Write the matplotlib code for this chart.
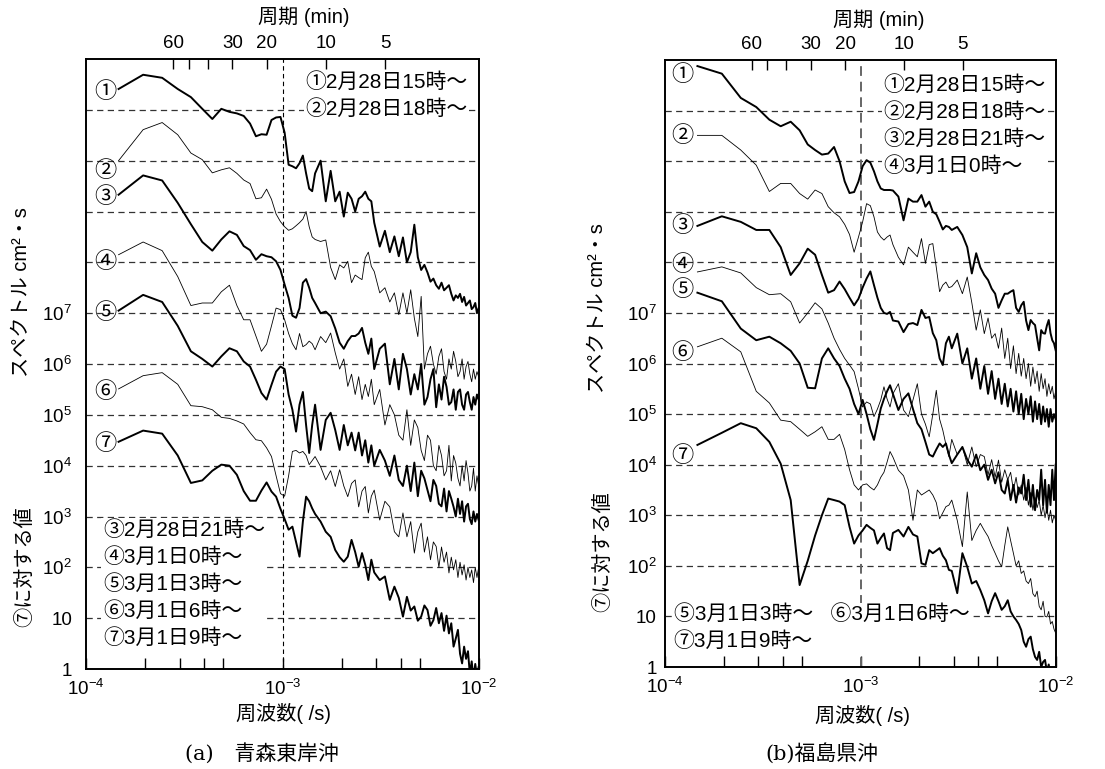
import matplotlib
matplotlib.use("Agg")
import matplotlib.pyplot as plt
from matplotlib.ticker import FixedLocator, NullLocator, FixedFormatter
import numpy as np

plt.rcParams['font.family'] = ['Liberation Sans', 'Noto Sans CJK JP']
plt.rcParams['mathtext.fontset'] = 'custom'
plt.rcParams['mathtext.rm'] = 'Liberation Sans'
plt.rcParams['mathtext.it'] = 'Liberation Sans:italic'

# spectral bins: frequency = bin / record length
RECORD_SEC = 20480.0
bins = [3, 4, 5, 6, 7, 8, 9, 10, 11, 12,
        13, 14, 15, 16, 17, 18, 19, 20, 21, 22,
        23, 24, 25, 26, 27, 28, 29, 30, 32, 34,
        36, 38, 40, 42, 44, 46, 48, 50, 52, 54,
        56, 58, 60, 64, 68, 72, 76, 80, 84, 88,
        92, 96, 100, 104, 108, 112, 116, 120, 124, 128,
        132, 136, 140, 144, 148, 152, 156, 160, 164, 168,
        172, 176, 180, 184, 188, 192, 196, 200, 204]

# log10 of spectrum (offset relative to curve 7), (a) Aomori
aomori_1 = [11.41, 11.69, 11.63, 11.41, 11.25, 11.02, 10.82, 11.02, 10.96, 10.93,
            10.88, 10.73, 10.48, 10.52, 10.51, 10.80, 10.85, 10.86, 10.55, 9.92,
            9.89, 9.85, 9.95, 10.10, 9.75, 9.45, 9.40, 9.75, 10.0, 9.2,
            9.8, 9.2, 9.39, 8.9, 9.37, 9.25, 9.0, 9.25, 9.3, 9.39,
            9.25, 9.2, 8.78, 8.31, 8.62, 8.2, 8.51, 8.12, 8.49, 8.0,
            8.2, 8.74, 8.1, 7.85, 7.95, 7.8, 7.62, 7.68, 7.55, 7.48,
            7.6, 7.45, 7.5, 7.55, 7.38, 7.25, 7.35, 7.3, 7.38, 7.22,
            7.32, 7.15, 7.2, 7.25, 7.08, 7.12, 7.2, 7.0, 7.1]
aomori_2 = [10.0, 10.61, 10.75, 10.51, 10.15, 10.02, 9.76, 9.82, 9.86, 9.75,
            9.62, 9.55, 9.25, 9.27, 9.44, 9.24, 8.95, 8.8, 8.7, 8.63,
            8.66, 8.72, 8.78, 8.85, 9.0, 8.7, 8.5, 8.45, 8.41, 8.44,
            7.9, 7.66, 7.95, 7.89, 8.02, 7.6, 7.75, 7.7, 7.66, 8.09,
            8.2, 7.92, 7.82, 7.4, 7.5, 7.22, 7.4, 6.97, 7.4, 7.0,
            7.46, 6.9, 6.54, 7.33, 5.9, 6.2, 6.35, 6.0, 5.8, 6.15,
            6.3, 5.85, 5.7, 6.1, 5.9, 6.25, 6.05, 5.75, 5.85, 6.1,
            5.7, 5.95, 6.05, 5.8, 5.65, 5.9, 5.7, 5.85, 5.75]
aomori_3 = [9.33, 9.71, 9.61, 9.17, 8.75, 8.4, 8.23, 8.45, 8.61, 8.54,
            8.32, 8.24, 8.05, 8.16, 8.12, 8.1, 8.02, 7.85, 7.56, 7.3,
            6.95, 6.91, 7.1, 7.6, 7.67, 7.5, 7.3, 7.2, 7.0, 7.03,
            6.94, 6.7, 6.42, 6.3, 6.45, 6.55, 6.55, 6.6, 6.71, 6.42,
            6.2, 6.5, 5.9, 6.3, 6.4, 5.6, 6.1, 5.5, 6.2, 5.9,
            5.4, 5.8, 5.5, 6.0, 5.2, 5.35, 5.7, 5.9, 5.15, 5.6,
            5.3, 5.75, 5.55, 5.2, 5.25, 5.5, 5.1, 5.45, 5.5, 5.2,
            5.1, 5.4, 5.45, 5.25, 5.1, 5.35, 5.2, 5.4, 5.3]
aomori_4 = [8.15, 8.4, 8.23, 7.72, 7.15, 7.2, 7.2, 7.42, 7.55, 7.15,
            6.87, 6.87, 6.55, 6.25, 6.39, 6.75, 7.1, 7.07, 6.87, 6.6,
            6.4, 6.28, 6.6, 6.34, 6.38, 6.45, 6.4, 6.28, 6.54, 6.42,
            6.61, 6.22, 5.9, 6.1, 5.56, 5.8, 5.4, 5.75, 5.3, 5.6,
            5.36, 5.7, 5.2, 5.5, 4.8, 5.2, 5.0, 4.6, 4.5, 5.1,
            4.4, 4.9, 4.75, 4.3, 4.1, 4.6, 4.5, 4.0, 3.9, 4.4,
            4.2, 3.8, 3.9, 4.4, 3.7, 4.2, 4.05, 3.75, 3.6, 4.0,
            3.7, 4.1, 3.85, 3.5, 3.6, 3.95, 3.5, 3.8, 3.6]
aomori_5 = [7.05, 7.36, 7.22, 6.75, 6.25, 6.1, 5.95, 6.15, 6.31, 6.25,
            6.05, 5.95, 5.69, 5.43, 5.3, 5.59, 5.85, 5.95, 5.9, 5.4,
            5.1, 4.67, 5.2, 5.45, 4.8, 4.25, 4.8, 5.2, 4.31, 4.9,
            5.04, 4.7, 4.31, 4.8, 4.4, 4.65, 4.3, 4.65, 4.2, 4.5,
            4.06, 4.4, 4.0, 4.31, 4.1, 3.8, 4.2, 3.72, 3.6, 4.0,
            3.5, 4.06, 3.4, 3.9, 3.75, 3.52, 3.3, 3.72, 3.6, 3.25,
            3.2, 3.55, 3.1, 3.5, 3.35, 3.19, 3.0, 3.35, 3.05, 3.3,
            2.9, 3.2, 3.25, 2.95, 2.85, 3.1, 2.9, 3.05, 2.93]
aomori_6 = [5.51, 5.77, 5.83, 5.6, 5.18, 5.16, 5.1, 4.95, 4.93, 4.88,
            4.82, 4.65, 4.51, 4.49, 4.35, 4.18, 3.8, 3.45, 3.4, 3.8,
            4.28, 4.3, 4.25, 4.28, 4.2, 4.02, 4.1, 4.18, 3.98, 3.72,
            3.9, 3.59, 3.92, 3.6, 3.39, 3.65, 3.72, 3.19, 3.5, 3.59,
            3.07, 3.4, 3.52, 2.93, 3.3, 3.19, 2.7, 2.6, 3.07, 2.6,
            2.9, 2.28, 2.7, 2.87, 2.3, 2.6, 2.15, 2.5, 2.41, 2.0,
            2.4, 2.1, 2.3, 1.89, 2.2, 1.95, 2.15, 1.8, 2.1, 1.85,
            2.05, 1.75, 2.0, 1.8, 1.95, 1.7, 2.0, 1.8, 2.0]
aomori_7 = [4.47, 4.69, 4.63, 4.2, 3.66, 3.71, 3.9, 4.02, 4.0, 3.82,
            3.5, 3.31, 3.31, 3.51, 3.67, 3.49, 3.39, 3.15, 2.95, 2.74,
            2.8, 2.5, 2.21, 2.9, 3.39, 3.3, 3.16, 3.05, 2.9, 2.7,
            2.6, 2.34, 2.2, 2.11, 2.21, 2.54, 2.3, 2.01, 2.28, 2.05,
            1.75, 2.15, 1.9, 1.75, 1.82, 1.36, 1.62, 1.4, 1.03, 1.42,
            1.15, 1.23, 0.95, 1.03, 1.25, 1.16, 0.85, 0.96, 1.2, 0.9,
            1.1, 0.75, 1.05, 0.7, 0.9, 0.44, 0.6, 0.77, 0.3, 0.11,
            0.44, 0.2, 0.35, -0.1, 0.15, -0.2, 0.1, -0.15, 0.04]

# (b) Fukushima
fukushima_1 = [11.88, 11.73, 11.25, 11.07, 10.82, 10.69, 10.78, 10.61, 10.33, 10.22,
               10.13, 10.15, 10.28, 10.0, 9.6, 9.37, 9.39, 9.6, 9.9, 10.02,
               9.97, 9.8, 9.6, 9.46, 9.43, 9.43, 9.43, 9.42, 9.3, 8.83,
               9.26, 9.2, 9.2, 9.33, 9.1, 9.2, 9.0, 8.95, 8.8, 8.65,
               8.72, 8.7, 8.64, 8.7, 8.54, 8.3, 7.78, 8.18, 7.9, 7.75,
               7.65, 7.48, 7.38, 7.1, 7.25, 7.38, 7.38, 7.42, 7.45, 7.1,
               7.02, 7.15, 7.22, 6.85, 6.66, 6.86, 6.8, 6.76, 6.5, 6.26,
               6.66, 6.6, 6.59, 6.75, 6.86, 6.6, 6.46, 6.4, 6.26]
fukushima_2 = [10.51, 10.51, 10.22, 9.92, 9.4, 9.56, 9.56, 9.36, 9.25, 9.43,
               9.36, 9.1, 8.98, 8.9, 8.75, 8.55, 8.2, 8.5, 8.8, 9.16,
               9.12, 8.9, 8.6, 8.5, 8.44, 8.5, 8.54, 8.35, 8.1, 7.95,
               8.3, 8.2, 8.11, 8.47, 7.98, 8.35, 8.37, 7.9, 7.42, 7.55,
               7.61, 7.5, 7.52, 7.65, 7.38, 7.71, 7.2, 6.66, 7.06, 6.59,
               6.9, 6.5, 6.59, 6.3, 6.7, 6.1, 6.5, 5.9, 6.35, 5.8,
               6.2, 5.75, 6.1, 5.7, 6.0, 5.55, 5.93, 5.6, 5.85, 5.45,
               5.8, 5.5, 5.7, 5.35, 5.6, 5.4, 5.55, 5.3, 5.45]
fukushima_3 = [8.72, 8.91, 8.8, 8.64, 8.64, 8.3, 7.75, 7.98, 8.27, 8.15,
               7.75, 7.4, 7.45, 7.62, 7.47, 7.3, 7.15, 7.28, 7.5, 7.68,
               7.82, 7.55, 7.3, 7.1, 7.0, 6.98, 7.02, 6.85, 6.83, 6.62,
               6.78, 6.8, 6.76, 7.06, 6.9, 6.92, 6.6, 6.46, 6.1, 5.97,
               6.4, 6.53, 6.3, 6.59, 6.0, 6.3, 5.7, 6.1, 5.5, 5.95,
               5.4, 5.85, 5.3, 5.7, 5.2, 5.6, 5.15, 5.5, 5.05, 5.45,
               5.0, 5.4, 4.9, 5.3, 5.0, 5.35, 4.85, 5.25, 4.9, 5.2,
               4.8, 5.15, 4.85, 5.1, 4.75, 5.1, 4.85, 5.0, 4.9]
fukushima_4 = [7.81, 7.91, 7.79, 7.5, 7.36, 7.38, 7.22, 6.8, 7.0, 7.2,
               7.08, 6.8, 6.5, 6.28, 6.1, 5.97, 5.84, 5.5, 5.14, 5.24,
               5.2, 4.95, 5.1, 5.28, 5.54, 5.3, 5.14, 5.4, 5.6, 5.08,
               4.95, 5.28, 5.6, 5.0, 4.8, 4.55, 5.0, 5.47, 4.9, 4.68,
               4.4, 4.16, 4.5, 4.2, 4.35, 4.0, 4.35, 3.96, 4.2, 4.16,
               3.8, 4.1, 3.75, 4.09, 3.65, 3.9, 3.7, 3.85, 3.5, 3.75,
               3.4, 3.6, 3.3, 3.55, 3.2, 3.45, 3.1, 3.35, 3.15, 3.3,
               3.0, 3.2, 2.95, 3.15, 2.9, 3.1, 2.85, 3.0, 2.9]
fukushima_5 = [7.4, 7.23, 6.69, 6.46, 6.53, 6.4, 6.25, 6.0, 5.52, 5.51,
               6.1, 6.3, 6.1, 5.95, 5.7, 5.5, 5.2, 5.0, 5.28, 5.0,
               4.7, 4.49, 4.8, 5.11, 5.3, 5.45, 5.57, 5.4, 5.08, 5.3,
               5.41, 5.1, 4.82, 4.7, 4.45, 4.2, 4.16, 4.3, 4.42, 4.35,
               4.42, 4.2, 4.03, 4.2, 4.35, 4.1, 3.96, 4.2, 3.89, 4.0,
               3.7, 3.9, 3.63, 3.85, 3.5, 3.43, 3.7, 3.3, 3.6, 3.25,
               3.55, 3.43, 3.8, 3.3, 3.7, 3.17, 3.6, 3.1, 3.5, 3.3,
               3.9, 3.2, 3.7, 3.05, 3.6, 3.2, 3.9, 3.3, 4.0]
fukushima_6 = [6.33, 6.5, 6.23, 5.45, 5.22, 4.88, 4.85, 4.7, 4.56, 4.65,
               4.75, 4.5, 4.5, 4.6, 4.3, 3.9, 3.6, 3.5, 3.6, 3.62,
               3.55, 3.5, 3.6, 3.75, 3.85, 4.05, 4.26, 4.15, 3.89, 3.78,
               3.5, 2.9, 3.5, 3.4, 3.45, 3.5, 3.4, 3.25, 2.93, 3.05,
               3.17, 3.2, 3.3, 2.9, 2.38, 3.46, 2.5, 2.7, 2.84, 2.7,
               2.58, 2.4, 2.25, 2.1, 1.98, 2.4, 2.77, 2.5, 2.25, 2.0,
               2.1, 1.85, 1.9, 1.7, 1.65, 1.75, 1.45, 1.39, 1.5, 1.2,
               1.13, 1.3, 1.0, 0.99, 1.1, 0.85, 0.9, 0.75, 0.67]
fukushima_7 = [4.39, 4.63, 4.82, 4.72, 4.45, 4.02, 3.3, 1.62, 2.1, 2.6,
               3.0, 3.33, 3.3, 3.27, 3.2, 2.77, 2.44, 2.6, 2.7, 2.81,
               2.75, 2.7, 2.44, 2.55, 2.64, 2.35, 2.31, 2.65, 2.71, 2.58,
               2.77, 2.62, 2.58, 2.05, 2.02, 2.31, 2.25, 2.3, 2.35, 2.2,
               2.11, 1.92, 1.9, 1.46, 2.25, 1.98, 1.65, 1.7, 1.52, 1.32,
               1.06, 1.3, 1.46, 1.3, 1.13, 1.2, 1.32, 1.1, 1.0, 0.93,
               0.85, 0.73, 0.5, 0.4, 0.55, 0.6, 0.35, 0.2, 0.14, 0.3,
               0.0, 0.1, 0.14, -0.1, 0.05, -0.2, -0.1, -0.3, -0.2]

aomori = [aomori_1, aomori_2, aomori_3, aomori_4, aomori_5, aomori_6, aomori_7]
fukushima = [fukushima_1, fukushima_2, fukushima_3, fukushima_4,
             fukushima_5, fukushima_6, fukushima_7]

marks = ['①', '②', '③', '④', '⑤', '⑥', '⑦']
aomori_top = ['①2月28日15時～', '②2月28日18時～']
aomori_bottom = ['③2月28日21時～', '④3月1日0時～', '⑤3月1日3時～',
                 '⑥3月1日6時～', '⑦3月1日9時～']
fukushima_top = ['①2月28日15時～', '②2月28日18時～', '③2月28日21時～', '④3月1日0時～']
fukushima_bottom = ['⑤3月1日3時～   ⑥3月1日6時～', '⑦3月1日9時～']

periods_min = [60, 50, 40, 30, 20, 10, 5]
period_labels = ['60', '', '', '30', '20', '10', '5']

freq = np.array(bins) / RECORD_SEC

fig = plt.figure(figsize=(11.05, 7.69), dpi=100)
ax_a = fig.add_axes([86 / 1105, 1 - 669 / 769, 393 / 1105, 610 / 769])
ax_b = fig.add_axes([665 / 1105, 1 - 667 / 769, 391 / 1105, 607 / 769])


def draw_panel(ax, curves, dys, label_f, ypad, vline_kw):
    for i, vals in enumerate(curves):
        lw = 1.4 if i % 2 == 0 else 0.6
        ax.plot(freq, 10.0 ** np.array(vals), color='black', lw=lw, zorder=3)
        ax.text(label_f, 10.0 ** (vals[0] + dys[i]), marks[i], fontsize=16,
                ha='center', va='center', zorder=4)

    ax.set_xscale('log')
    ax.set_yscale('log')
    ax.set_xlim(1e-4, 1e-2)
    ax.set_ylim(1, 1e12)

    decades = [10.0 ** e for e in range(12)]
    ylabels = ['1', '10'] + ['$10^{%d}$' % e for e in range(2, 8)] + [''] * 4
    ax.yaxis.set_major_locator(FixedLocator(decades))
    ax.yaxis.set_major_formatter(FixedFormatter(ylabels))
    ax.yaxis.set_minor_locator(NullLocator())
    ax.tick_params(axis='y', which='both', length=0, labelsize=13.5, pad=ypad)
    ax.grid(axis='y', which='major', color='#333333', lw=0.9, ls=(0, (5, 3.5)))

    ax.xaxis.set_major_locator(FixedLocator([1e-4, 1e-3, 1e-2]))
    ax.xaxis.set_major_formatter(FixedFormatter(['$10^{-4}$', '$10^{-3}$', '$10^{-2}$']))
    ax.xaxis.set_minor_locator(FixedLocator([2e-4, 3e-4, 4e-4, 5e-4,
                                             2e-3, 3e-3, 4e-3, 5e-3]))
    ax.tick_params(axis='x', which='both', direction='in', length=8, width=1.0,
                   labelsize=13.5, pad=7, top=False)
    ax.axvline(1e-3, **vline_kw)

    for s in ax.spines.values():
        s.set_linewidth(1.2)

    top = ax.twiny()
    top.set_xscale('log')
    top.set_xlim(ax.get_xlim())
    top.xaxis.set_major_locator(FixedLocator([1.0 / (60.0 * p) for p in periods_min]))
    top.xaxis.set_major_formatter(FixedFormatter(period_labels))
    top.xaxis.set_minor_locator(NullLocator())
    top.tick_params(axis='x', which='major', direction='in', length=7.5, width=1.0,
                    labelsize=13.5, pad=5)
    for s in top.spines.values():
        s.set_linewidth(1.2)


draw_panel(ax_a, aomori, [-0.07, -0.22, -0.06, -0.16, -0.06, -0.08, -0.06], 1.25e-4, 10,
           dict(color='black', lw=0.8, ls=(0, (4, 3)), zorder=2))
draw_panel(ax_b, fukushima, [-0.18, -0.03, -0.02, 0.13, 0.04, -0.14, -0.22], 1.22e-4, 6,
           dict(color='#666666', lw=1.4, ls=(0, (5, 3)), zorder=2))

box = dict(facecolor='white', edgecolor='none', pad=1.0)
ax_a.text(0.558, 0.941, '\n'.join(aomori_top), transform=ax_a.transAxes, fontsize=15,
          ha='left', va='center', linespacing=1.45, bbox=box, zorder=5)
ax_a.text(0.043, 0.140, '\n'.join(aomori_bottom), transform=ax_a.transAxes, fontsize=15,
          ha='left', va='center', linespacing=1.45, bbox=box, zorder=5)
ax_b.text(0.558, 0.892, '\n'.join(fukushima_top), transform=ax_b.transAxes, fontsize=15,
          ha='left', va='center', linespacing=1.45, bbox=box, zorder=5)
ax_b.text(0.022, 0.065, '\n'.join(fukushima_bottom), transform=ax_b.transAxes, fontsize=15,
          ha='left', va='center', linespacing=1.45, bbox=box, zorder=5)

# axis titles
fig.text(0.275, 0.978, '周期 (min)', fontsize=14.5, ha='center', va='center')
fig.text(0.7955, 0.974, '周期 (min)', fontsize=14.5, ha='center', va='center')
fig.text(0.257, 0.0728, '周波数( /s)', fontsize=14.5, ha='center', va='center')
fig.text(0.7805, 0.0702, '周波数( /s)', fontsize=14.5, ha='center', va='center')
fig.text(0.0199, 0.620, 'スペクトル cm²・s', fontsize=14.5, rotation=90, ha='center', va='center')
fig.text(0.0226, 0.263, '⑦に対する値', fontsize=14.5, rotation=90, ha='center', va='center')
fig.text(0.541, 0.600, 'スペクトル cm²・s', fontsize=14.5, rotation=90, ha='center', va='center')
fig.text(0.5457, 0.283, '⑦に対する値', fontsize=14.5, rotation=90, ha='center', va='center')

cap_font = ['DejaVu Serif', 'Noto Sans CJK JP']
fig.text(0.237, 0.021, '(a)　青森東岸沖', fontsize=15, ha='center', va='center',
         family=cap_font)
fig.text(0.744, 0.021, '(b)福島県沖', fontsize=15, ha='center', va='center',
         family=cap_font)

fig.savefig('out.png', dpi=100)
